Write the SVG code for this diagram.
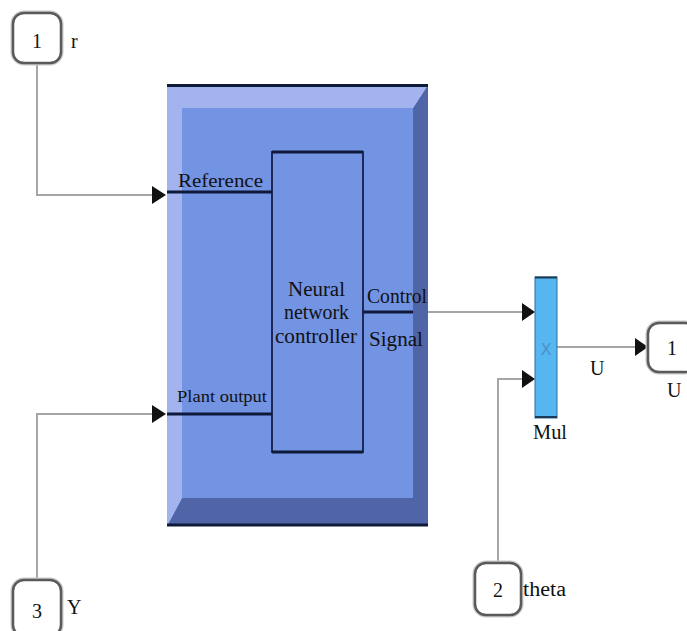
<svg xmlns="http://www.w3.org/2000/svg" width="687" height="631" viewBox="0 0 687 631" font-family="'Liberation Serif','Times New Roman',Times,'Nimbus Roman',serif">
<style>
text{font-family:"Liberation Serif","Times New Roman",Times,"Nimbus Roman",serif;fill:#111;}
.t{font-size:20px;}
.port{fill:#fff;stroke:#5a5a5a;stroke-width:2.5;}
.portglow{fill:none;stroke:#c8c8c8;stroke-width:5;}
.wire{fill:none;stroke:#a6a6a6;stroke-width:2;}
.thick{fill:none;stroke:#0f1a3a;stroke-width:3;}
.arrow{fill:#111;}
</style>
<rect width="687" height="631" fill="#fff"/>
<g id="connectors">
<polyline class="wire" points="37,63 37,195 152,195"/>
<polygon class="arrow" points="152,186 166,195 152,204"/>
<polyline class="wire" points="37,580 37,414 152,414"/>
<polygon class="arrow" points="152,405 166,414 152,423"/>
<line class="wire" x1="412" y1="312" x2="524" y2="312"/>
<polygon class="arrow" points="522,303 535,312 522,321"/>
<polyline class="wire" points="498,563 498,379 524,379"/>
<polygon class="arrow" points="522,370 535,379 522,388"/>
<line class="wire" x1="557" y1="347" x2="637" y2="347"/>
<polygon class="arrow" points="635,338 648,347 635,356"/>
<text class="t" x="590" y="375">U</text>
</g>
<g id="port-r">
<rect class="portglow" x="13" y="13" width="48" height="50" rx="11"/>
<rect class="port" x="13" y="13" width="48" height="50" rx="11"/>
<text class="t" x="37" y="48" text-anchor="middle">1</text>
<text class="t" x="71" y="48">r</text>
</g>
<g id="port-Y">
<rect class="portglow" x="13" y="580" width="48" height="56" rx="11"/>
<rect class="port" x="13" y="580" width="48" height="56" rx="11"/>
<text class="t" x="37" y="618" text-anchor="middle">3</text>
<text class="t" x="67" y="614">Y</text>
</g>
<g id="port-theta">
<rect class="portglow" x="475" y="563" width="46" height="52" rx="11"/>
<rect class="port" x="475" y="563" width="46" height="52" rx="11"/>
<text class="t" x="498" y="597" text-anchor="middle">2</text>
<text class="t" x="523" y="596" textLength="43" lengthAdjust="spacingAndGlyphs">theta</text>
</g>
<g id="port-U">
<rect class="portglow" x="648" y="323" width="48" height="49" rx="11"/>
<rect class="port" x="648" y="323" width="48" height="49" rx="11"/>
<text class="t" x="672" y="355" text-anchor="middle">1</text>
<text class="t" x="667" y="397">U</text>
</g>
<g id="nn-subsystem">
<rect x="167" y="85" width="261" height="441" fill="#a2b3ee"/>
<polygon points="428,85 428,526 167,526 182,498 413,498 413,108" fill="#5064a8"/>
<polygon points="167,85 428,85 413,108 182,108 182,498 167,526" fill="#a2b3ee"/>
<rect x="182" y="108" width="231" height="390" fill="#7393e3"/>
<line x1="167" y1="85.5" x2="428" y2="85.5" stroke="#0f1a3a" stroke-width="3"/>
<line x1="167" y1="525" x2="428" y2="525" stroke="#0f1a3a" stroke-width="3"/>
<rect x="272" y="152" width="91" height="300" fill="#7393e3" stroke="#1b2a5a" stroke-width="2"/>
<line x1="272" y1="152" x2="363" y2="152" stroke="#0f1a3a" stroke-width="3"/>
<line x1="272" y1="452" x2="363" y2="452" stroke="#0f1a3a" stroke-width="3"/>
<line class="thick" x1="167" y1="192" x2="272" y2="192"/>
<line class="thick" x1="167" y1="414" x2="272" y2="414"/>
<line class="thick" x1="363" y1="312" x2="413" y2="312"/>
<text x="178" y="187" font-size="19" textLength="85" lengthAdjust="spacingAndGlyphs">Reference</text>
<text x="177" y="402" font-size="17" textLength="90" lengthAdjust="spacingAndGlyphs">Plant output</text>
<text class="t" x="316.5" y="296" text-anchor="middle" textLength="57" lengthAdjust="spacingAndGlyphs">Neural</text>
<text class="t" x="316.5" y="319" text-anchor="middle" textLength="65" lengthAdjust="spacingAndGlyphs">network</text>
<text class="t" x="316" y="343" text-anchor="middle" textLength="82" lengthAdjust="spacingAndGlyphs">controller</text>
<text class="t" x="367" y="303" textLength="60" lengthAdjust="spacingAndGlyphs">Control</text>
<text class="t" x="369" y="346" textLength="54" lengthAdjust="spacingAndGlyphs">Signal</text>
</g>
<g id="mul">
<rect x="535" y="277" width="22" height="141" fill="#56b6f0" stroke="#2b6f9e" stroke-width="1"/>
<line x1="535" y1="277.5" x2="557" y2="277.5" stroke="#1c3a55" stroke-width="2"/>
<line x1="535" y1="417" x2="557" y2="417" stroke="#1c3a55" stroke-width="2"/>
<text x="546" y="355" font-size="16" text-anchor="middle" style="font-family:'Liberation Sans',Arial,sans-serif;fill:#4a90c8">X</text>
<text class="t" x="550" y="439" text-anchor="middle" textLength="34" lengthAdjust="spacingAndGlyphs">Mul</text>
</g>
</svg>
